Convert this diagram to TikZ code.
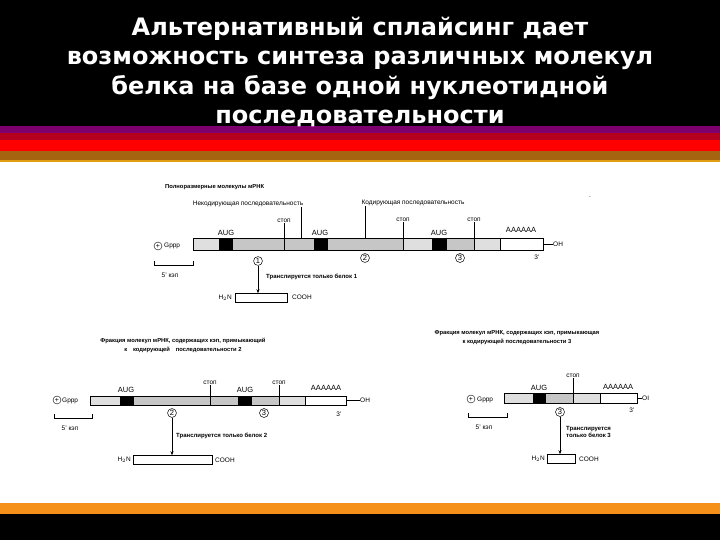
\documentclass[tikz,border=0pt]{standalone}
\usepackage{fontspec}
\setmainfont{Liberation Sans}
\newfontfamily\ttlfont{DejaVu Sans}
\usetikzlibrary{arrows.meta}
\definecolor{pur}{RGB}{125,0,110}
\definecolor{dred}{RGB}{180,0,30}
\definecolor{brn}{RGB}{165,100,15}
\definecolor{gld}{RGB}{225,160,20}
\definecolor{org}{RGB}{245,145,25}
\begin{document}
\begin{tikzpicture}[x=1pt,y=-1pt,
  lbl/.style={font=\fontsize{6.5}{7.5}\selectfont,inner sep=0pt},
  hd/.style={font=\bfseries\fontsize{5.8}{9}\selectfont,inner sep=0pt,align=center},
  seg/.style={draw=black,line width=0.6pt,fill=gray!45},
  segl/.style={draw=black,line width=0.6pt,fill=gray!25},
  segb/.style={draw=black,line width=0.6pt,fill=black},
  segw/.style={draw=black,line width=0.6pt,fill=white},
  num/.style={circle,draw,line width=0.5pt,inner sep=0.8pt,font=\fontsize{7.5}{8}\selectfont},
  tick/.style={line width=0.5pt},
  arr/.style={-{Stealth[length=4pt,width=3pt]},line width=0.6pt},
  prot/.style={draw,line width=0.5pt,inner sep=0pt,minimum height=9pt}]
\useasboundingbox (0,0) rectangle (720,540);
\fill[black] (0,0) rectangle (720,127);
\fill[pur] (0,126) rectangle (720,133);
\fill[dred] (0,133) rectangle (720,140);
\fill[red] (0,140) rectangle (720,151);
\fill[brn] (0,151) rectangle (720,160);
\fill[gld] (0,160) rectangle (720,162);
\fill[org] (0,503) rectangle (720,514);
\fill[black] (0,514) rectangle (720,540);
\node[font=\ttlfont\bfseries\fontsize{24}{29.5}\selectfont,text=white,align=center] (title) at (360,72)
 {Альтернативный сплайсинг дает\\возможность синтеза различных молекул\\белка на базе одной нуклеотидной\\последовательности};
% ---------- top
\node[hd,anchor=west] (h1) at (165,187) {Полноразмерные молекулы мРНК};
\node[lbl,anchor=south] (nc) at (248,207) {Некодирующая последовательность};
\node[lbl,anchor=south] (cc) at (413,206) {Кодирующая последовательность};
\fill[segl] (193,238) rectangle (219,250);
\fill[segb] (219,238) rectangle (232,250);
\fill[seg] (232,238) rectangle (284,250);
\fill[seg] (284,238) rectangle (314,250);
\fill[segb] (314,238) rectangle (327,250);
\fill[seg] (327,238) rectangle (403,250);
\fill[segl] (403,238) rectangle (432,250);
\fill[segb] (432,238) rectangle (446,250);
\fill[seg] (446,238) rectangle (474,250);
\fill[segl] (474,238) rectangle (500,250);
\fill[segw] (500,238) rectangle (543,250);
\coordinate (t3) at (543,244);
\node[lbl,anchor=west] (toh) at (553,244) {OH};
\draw[line width=0.6pt] (t3) -- (toh.west);
\draw[tick] (301,238) -- (nc.south -| 301,0);
\draw[tick] (365,238) -- (cc.south -| 365,0);
\node[lbl] (s1) at (284,221) {стоп};
\node[lbl] (s2) at (403,220) {стоп};
\node[lbl] (s3) at (474,220) {стоп};
\draw[tick] (284,238) -- (s1.south);
\draw[tick] (403,238) -- (s2.south);
\draw[tick] (474,238) -- (s3.south);
\node[lbl,font=\fontsize{7.5}{8}\selectfont] (a1) at (226,233) {AUG};
\node[lbl,font=\fontsize{7.5}{8}\selectfont] (a2) at (320,233) {AUG};
\node[lbl,font=\fontsize{7.5}{8}\selectfont] (a3) at (439,233) {AUG};
\node[lbl,font=\fontsize{7.5}{8}\selectfont] (aa) at (521,230) {AAAAAA};
\node[lbl] (t3p) at (537,257) {3'};
\node[num] (c1) at (258,261) {1};
\node[num] (c2) at (365,258) {2};
\node[num] (c3) at (460,258) {3};
\node[circle,draw,inner sep=0pt,minimum size=8pt,font=\fontsize{7}{7}\selectfont] (pl) at (158,246) {+};
\node[lbl,anchor=west] (gp) at (164,246) {Gppp};
\draw[line width=0.5pt] (154,261) -- (154,265) -- (193,265) -- (193,261);
\node[lbl] (cap) at (170,275) {5' кэп};
\node[lbl,anchor=west,font=\bfseries\fontsize{6}{7}\selectfont] (tr1) at (266,277) {Транслируется только белок 1};
\node[prot,minimum width=52pt] (p1) at (261,298) {};
\draw[arr] (c1) -- (p1.north -| c1);
\node[lbl,anchor=east] (hn1) at (232,298) {H$_2$N};
\node[lbl,anchor=west] (co1) at (292,297) {COOH};
\node[lbl] (dot) at (590,197) {.};
% ---------- bottom left
\node[hd] (h2) at (183,345) {Фракция молекул мРНК, содержащих кэп, примыкающий\\к\quad кодирующей\quad последовательности 2};
\fill[segl] (90,396) rectangle (120,405);
\fill[segb] (120,396) rectangle (133,405);
\fill[seg] (133,396) rectangle (210,405);
\fill[seg] (210,396) rectangle (238,405);
\fill[segb] (238,396) rectangle (251,405);
\fill[seg] (251,396) rectangle (279,405);
\fill[segl] (279,396) rectangle (305,405);
\fill[segw] (305,396) rectangle (346,405);
\coordinate (b3) at (346,400);
\node[lbl,anchor=west] (boh) at (360,400) {OH};
\draw[line width=0.6pt] (b3) -- (boh.west);
\node[lbl] (bs1) at (210,383) {стоп};
\node[lbl] (bs2) at (279,383) {стоп};
\draw[tick] (210,396) -- (bs1.south);
\draw[tick] (279,396) -- (bs2.south);
\node[lbl,font=\fontsize{7.5}{8}\selectfont] (ba1) at (126,390) {AUG};
\node[lbl,font=\fontsize{7.5}{8}\selectfont] (ba2) at (245,390) {AUG};
\node[lbl,font=\fontsize{7.5}{8}\selectfont] (baa) at (326,388) {AAAAAA};
\node[lbl] (b3p) at (339,414) {3'};
\node[num] (bc2) at (172,413) {2};
\node[num] (bc3) at (264,413) {3};
\node[circle,draw,inner sep=0pt,minimum size=8pt,font=\fontsize{7}{7}\selectfont] (bpl) at (57,400) {+};
\node[lbl,anchor=west] (bgp) at (62,401) {Gppp};
\draw[line width=0.5pt] (54,414) -- (54,418) -- (92,418) -- (92,414);
\node[lbl] (bcap) at (70,428) {5' кэп};
\node[lbl,anchor=west,font=\bfseries\fontsize{6}{7}\selectfont] (tr2) at (176,436) {Транслируется только белок 2};
\node[prot,minimum width=79pt] (p2) at (172.5,460) {};
\draw[arr] (bc2) -- (p2.north -| bc2);
\node[lbl,anchor=east] (hn2) at (131,460) {H$_2$N};
\node[lbl,anchor=west] (co2) at (215,460) {COOH};
% ---------- bottom right
\node[hd] (h3) at (517,338) {Фракция молекул мРНК, содержащих кэп, примыкающая\\к кодирующей последовательности 3};
\fill[segl] (504,393) rectangle (533,403);
\fill[segb] (533,393) rectangle (545,403);
\fill[seg] (545,393) rectangle (573,403);
\fill[segl] (573,393) rectangle (600,403);
\fill[segw] (600,393) rectangle (637,403);
\coordinate (r3) at (637,398);
\node[lbl,anchor=west] (roh) at (642,398) {OI};
\draw[line width=0.6pt] (r3) -- (roh.west);
\node[lbl] (rs1) at (573,376) {стоп};
\draw[tick] (573,393) -- (rs1.south);
\node[lbl,font=\fontsize{7.5}{8}\selectfont] (ra1) at (539,388) {AUG};
\node[lbl,font=\fontsize{7.5}{8}\selectfont] (raa) at (618,387) {AAAAAA};
\node[lbl] (r3p) at (632,410) {3'};
\node[num] (rc3) at (560,412) {3};
\node[circle,draw,inner sep=0pt,minimum size=8pt,font=\fontsize{7}{7}\selectfont] (rpl) at (471,399) {+};
\node[lbl,anchor=west] (rgp) at (477,400) {Gppp};
\draw[line width=0.5pt] (468,413) -- (468,417) -- (507,417) -- (507,413);
\node[lbl] (rcap) at (484,427) {5' кэп};
\node[lbl,anchor=west,align=left,font=\bfseries\fontsize{6}{7.5}\selectfont] (tr3) at (566,432) {Транслируется\\только белок 3};
\node[prot,minimum width=28pt] (p3) at (561,459) {};
\draw[arr] (rc3) -- (p3.north -| rc3);
\node[lbl,anchor=east] (hn3) at (545,459) {H$_2$N};
\node[lbl,anchor=west] (co3) at (579,459) {COOH};
\end{tikzpicture}
\end{document}
